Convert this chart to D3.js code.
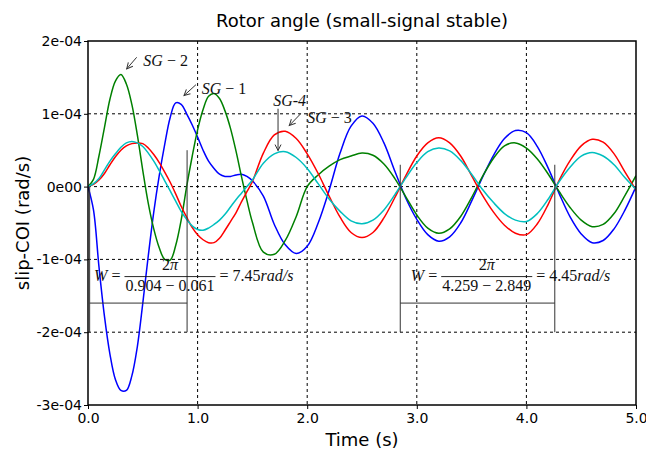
<!doctype html>
<html>
<head>
<meta charset="utf-8">
<script src="https://d3js.org/d3.v7.min.js"></script>
<style>
  body { margin: 0; background: #fff; }
  svg { font-family: "DejaVu Sans", sans-serif; }
  .math { font-family: "Liberation Serif", serif; font-size: 16px; fill: #111; }
</style>
</head>
<body>
<svg width="646" height="457"></svg>
<script>
// slip values in units of 1e-4 rad/s
const time = [0, 0.05, 0.1, 0.15, 0.2, 0.25, 0.3, 0.35, 0.4, 0.45, 0.5, 0.55, 0.6, 0.65, 0.7, 0.75,
  0.8, 0.85, 0.9, 0.95, 1.0, 1.05, 1.1, 1.15, 1.2, 1.25, 1.3, 1.35, 1.4, 1.45, 1.5,
  1.6, 1.7, 1.8, 1.9, 2.0, 2.1, 2.2, 2.3, 2.4, 2.5, 2.6, 2.7, 2.8, 2.9, 3.0, 3.1, 3.2, 3.3, 3.4,
  3.5, 3.6, 3.7, 3.8, 3.9, 4.0, 4.1, 4.2, 4.3, 4.4, 4.5, 4.6, 4.7, 4.8, 4.9, 5.0];

const sg1 = [0, -0.32, -1.1, -1.78, -2.3, -2.65, -2.8, -2.8, -2.6, -2.2, -1.6, -0.95, -0.35, 0.15, 0.58, 0.95,
  1.15, 1.13, 1.0, 0.85, 0.68, 0.5, 0.35, 0.25, 0.17, 0.14, 0.14, 0.16, 0.17, 0.14, 0.08,
  -0.13, -0.52, -0.8, -0.92, -0.82, -0.5, -0.05, 0.46, 0.83, 0.97, 0.87, 0.6, 0.21, -0.16, -0.45, -0.66, -0.75, -0.69, -0.5,
  -0.2, 0.13, 0.43, 0.66, 0.77, 0.74, 0.55, 0.25, -0.1, -0.42, -0.65, -0.77, -0.74, -0.58, -0.32, 0.0];

const sg2 = [0, 0.1, 0.42, 0.81, 1.2, 1.45, 1.54, 1.41, 1.13, 0.71, 0.22, -0.23, -0.58, -0.84, -1.0, -1.01,
  -0.81, -0.46, 0.0, 0.41, 0.78, 1.06, 1.24, 1.28, 1.21, 1.04, 0.8, 0.49, 0.14, -0.19, -0.49,
  -0.9, -0.93, -0.74, -0.41, 0.0, 0.16, 0.28, 0.37, 0.42, 0.46, 0.43, 0.31, 0.11, -0.14, -0.39, -0.57, -0.64, -0.58, -0.41,
  -0.15, 0.14, 0.39, 0.56, 0.6, 0.53, 0.38, 0.17, -0.07, -0.29, -0.46, -0.55, -0.52, -0.37, -0.12, 0.15];

const sg3 = [0, 0.03, 0.09, 0.18, 0.3, 0.41, 0.5, 0.56, 0.59, 0.6, 0.59, 0.53, 0.44, 0.33, 0.2, 0.06,
  -0.1, -0.27, -0.42, -0.56, -0.66, -0.73, -0.77, -0.77, -0.71, -0.6, -0.48, -0.36, -0.21, -0.07, 0.07,
  0.46, 0.71, 0.76, 0.66, 0.45, 0.18, -0.13, -0.42, -0.63, -0.7, -0.63, -0.43, -0.15, 0.15, 0.42, 0.6, 0.67, 0.6, 0.42,
  0.15, -0.12, -0.35, -0.53, -0.64, -0.66, -0.51, -0.24, 0.09, 0.36, 0.56, 0.65, 0.61, 0.45, 0.2, -0.05];

const sg4 = [0, 0.04, 0.11, 0.23, 0.35, 0.45, 0.54, 0.6, 0.62, 0.6, 0.55, 0.46, 0.35, 0.22, 0.08, -0.06,
  -0.2, -0.34, -0.45, -0.54, -0.59, -0.6, -0.57, -0.52, -0.46, -0.38, -0.28, -0.18, -0.09, 0.0, 0.09,
  0.32, 0.45, 0.48, 0.4, 0.25, 0.04, -0.17, -0.34, -0.47, -0.51, -0.46, -0.32, -0.11, 0.12, 0.33, 0.48, 0.53, 0.49, 0.36,
  0.17, -0.04, -0.22, -0.37, -0.46, -0.48, -0.37, -0.17, 0.07, 0.27, 0.42, 0.47, 0.42, 0.3, 0.12, -0.04];

const xTicks = [0, 1, 2, 3, 4, 5];
const xTickLabels = ["0.0", "1.0", "2.0", "3.0", "4.0", "5.0"];
const yTicks = [-3, -2, -1, 0, 1, 2];
const yTickLabels = ["-3e-04", "-2e-04", "-1e-04", "0e00", "1e-04", "2e-04"];

// curve annotations (data coords)
const labelText = [["SG", " − 2"], ["SG", " − 1"], ["SG-4", ""], ["SG", " − 3"]];
const labelPos = [[0.505, 1.65], [1.037, 1.273], [1.69, 1.11], [2.0, 0.87]];
const arrowFrom = [[0.444, 1.776], [0.985, 1.40], [1.734, 1.07], [1.94, 1.0]];
const arrowTo = [[0.353, 1.617], [0.876, 1.25], [1.734, 0.495], [1.837, 0.84]];

// period brackets
const periodStart = [0.015, 2.849];
const periodEnd = [0.904, 4.259];
const startTop = [0, 0.3];
const endTop = [0.5, 0.3];
const bracketLow = -2;
const bracketBar = -1.6;
const periodNum = [["0.904", "0.061"], ["4.259", "2.849"]];
const periodW = ["7.45", "4.45"];
const formulaPos = [[0.748, -1.236], [3.638, -1.236]];

const svg = d3.select("svg");
const margin = {top: 41, right: 10, bottom: 52, left: 88};
const width = 646 - margin.left - margin.right,
      height = 457 - margin.top - margin.bottom;

const x = d3.scaleLinear().domain([0, 5]).range([margin.left, margin.left + width]);
const y = d3.scaleLinear().domain([-3, 2]).range([margin.top + height, margin.top]);

// grid
const grid = svg.append("g");
grid.selectAll(".gx").data(xTicks.slice(1, -1)).enter().append("line")
  .attr("x1", d => x(d)).attr("x2", d => x(d))
  .attr("y1", margin.top).attr("y2", margin.top + height);
grid.selectAll(".gy").data(yTicks.slice(1, -1)).enter().append("line")
  .attr("y1", d => y(d)).attr("y2", d => y(d))
  .attr("x1", margin.left).attr("x2", margin.left + width);
grid.selectAll("line").attr("stroke", "#000").attr("stroke-dasharray", "3,3").attr("stroke-width", 1);

// curves
svg.append("clipPath").attr("id", "clip").append("rect")
  .attr("x", margin.left).attr("y", margin.top).attr("width", width).attr("height", height);

const series = [
  {values: sg1, color: "#0000ff"},
  {values: sg2, color: "#008000"},
  {values: sg3, color: "#ff0000"},
  {values: sg4, color: "#00bfbf"}
];

const line = d3.line()
  .x((d, i) => x(time[i]))
  .y(d => y(d))
  .curve(d3.curveCatmullRom.alpha(0.5));

svg.append("g").attr("clip-path", "url(#clip)")
  .selectAll("path").data(series).enter().append("path")
    .attr("d", d => line(d.values))
    .attr("fill", "none")
    .attr("stroke", d => d.color)
    .attr("stroke-width", 1.5);

// brackets
const br = svg.append("g").attr("stroke", "#333").attr("stroke-width", 1).attr("fill", "none");
periodStart.forEach((s, i) => {
  const e = periodEnd[i];
  br.append("line").attr("x1", x(s)).attr("x2", x(s)).attr("y1", y(startTop[i])).attr("y2", y(bracketLow));
  br.append("line").attr("x1", x(e)).attr("x2", x(e)).attr("y1", y(endTop[i])).attr("y2", y(bracketLow));
  br.append("line").attr("x1", x(s)).attr("x2", x(e)).attr("y1", y(bracketBar)).attr("y2", y(bracketBar));
});

// formulas
formulaPos.forEach((p, i) => {
  const cx = x(p[0]), by = y(p[1]);
  const g = svg.append("g").attr("class", "math");
  const den = g.append("text").attr("x", cx).attr("y", by + 14).attr("text-anchor", "middle")
    .text(periodNum[i][0] + " − " + periodNum[i][1]);
  const w = den.node().getComputedTextLength() + 2;
  g.append("text").attr("x", cx).attr("y", by - 7).attr("text-anchor", "middle")
    .text("2").append("tspan").attr("font-style", "italic").text("π");
  g.append("line").attr("x1", cx - w / 2).attr("x2", cx + w / 2).attr("y1", by).attr("y2", by)
    .attr("stroke", "#111").attr("stroke-width", 0.9);
  const lt = g.append("text").attr("x", cx - w / 2 - 4).attr("y", by + 4).attr("text-anchor", "end");
  lt.append("tspan").attr("font-style", "italic").text("W");
  lt.append("tspan").text(" =");
  const rt = g.append("text").attr("x", cx + w / 2 + 4).attr("y", by + 4);
  rt.append("tspan").text("= " + periodW[i]);
  rt.append("tspan").attr("font-style", "italic").text("rad/s");
});

// labels and arrows
svg.append("defs").append("marker").attr("id", "head")
  .attr("viewBox", "-8 -5 10 10").attr("refX", 0).attr("refY", 0)
  .attr("markerWidth", 10).attr("markerHeight", 10).attr("markerUnits", "userSpaceOnUse")
  .attr("orient", "auto")
  .append("path").attr("d", "M-6,-3L0,0L-6,3").attr("fill", "none").attr("stroke", "#333").attr("stroke-width", 1);

labelText.forEach((t, i) => {
  svg.append("line")
    .attr("x1", x(arrowFrom[i][0])).attr("y1", y(arrowFrom[i][1]))
    .attr("x2", x(arrowTo[i][0])).attr("y2", y(arrowTo[i][1]))
    .attr("stroke", "#333").attr("stroke-width", 1)
    .attr("marker-end", "url(#head)");
  const tx = svg.append("text").attr("class", "math")
    .attr("x", x(labelPos[i][0])).attr("y", y(labelPos[i][1]));
  tx.append("tspan").attr("font-style", "italic").text(t[0]);
  if (t[1]) tx.append("tspan").text(t[1]);
});

// frame
svg.append("rect").attr("x", margin.left).attr("y", margin.top)
  .attr("width", width).attr("height", height)
  .attr("fill", "none").attr("stroke", "#000").attr("stroke-width", 1.5);

// axes
const xAxis = svg.append("g").attr("transform", `translate(0,${margin.top + height})`)
  .call(d3.axisBottom(x).tickValues(xTicks).tickFormat((d, i) => xTickLabels[i]).tickSize(4).tickPadding(4));
const yAxis = svg.append("g").attr("transform", `translate(${margin.left},0)`)
  .call(d3.axisLeft(y).tickValues(yTicks).tickFormat((d, i) => yTickLabels[i]).tickSize(4).tickPadding(2));
[xAxis, yAxis].forEach(a => {
  a.select(".domain").remove();
  a.selectAll("text").attr("font-size", 14).attr("font-family", "DejaVu Sans").attr("fill", "#000");
  a.selectAll("line").attr("stroke", "#000");
});

svg.append("text").attr("x", margin.left + width / 2).attr("y", 27)
  .attr("text-anchor", "middle").attr("font-size", 18).text("Rotor angle (small-signal stable)");
svg.append("text").attr("x", margin.left + width / 2).attr("y", 446)
  .attr("text-anchor", "middle").attr("font-size", 18).text("Time (s)");
svg.append("text").attr("transform", `translate(29,${margin.top + height / 2}) rotate(-90)`)
  .attr("text-anchor", "middle").attr("font-size", 18).text("slip-COI (rad/s)");
</script>
</body>
</html>
